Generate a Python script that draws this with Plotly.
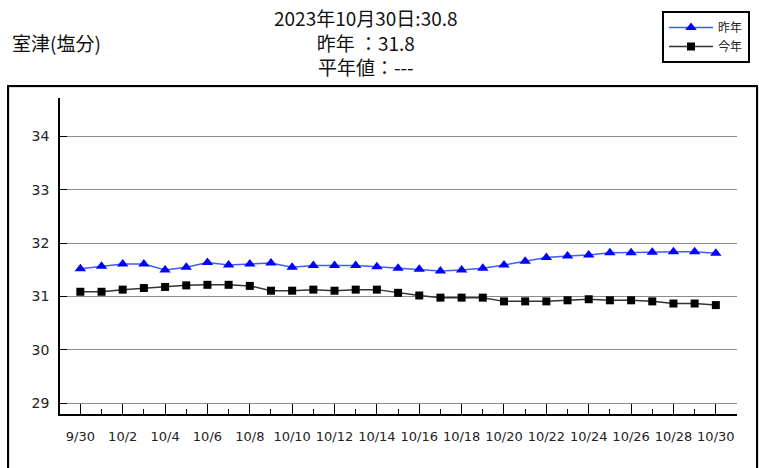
import plotly.graph_objects as go

dates = ["9/30"] + [f"10/{d}" for d in range(1, 31)]
last_year = [31.52, 31.57, 31.61, 31.61, 31.50, 31.55, 31.64, 31.59, 31.61, 31.63,
             31.55, 31.58, 31.58, 31.58, 31.56, 31.53, 31.51, 31.48, 31.50, 31.53,
             31.59, 31.66, 31.73, 31.76, 31.78, 31.82, 31.82, 31.83, 31.84, 31.84, 31.81]
this_year = [31.09, 31.09, 31.13, 31.16, 31.18, 31.21, 31.22, 31.22, 31.20, 31.11,
             31.11, 31.13, 31.11, 31.13, 31.13, 31.07, 31.02, 30.98, 30.98, 30.98,
             30.91, 30.91, 30.91, 30.93, 30.95, 30.93, 30.93, 30.91, 30.87, 30.87, 30.84]
y_ticks = [29, 30, 31, 32, 33, 34]

title_lines = ["2023年10月30日:30.8", "昨年 ：31.8", "平年値：---"]
station = "室津(塩分)"

idx = list(range(len(dates)))

fig = go.Figure()
fig.add_trace(go.Scatter(
    x=idx, y=last_year, name="昨年", mode="lines+markers",
    line=dict(color="#3f5cff", width=1.5),
    marker=dict(symbol="triangle-up", size=10, color="#0000ff"),
))
fig.add_trace(go.Scatter(
    x=idx, y=this_year, name="今年", mode="lines+markers",
    line=dict(color="#333333", width=1.5),
    marker=dict(symbol="square", size=8, color="#000000"),
))

W, H = 759, 468
L, R, T, B = 60, 22, 98, 54
pw, ph = W - L - R, H - T - B

def px(xp):
    return (xp - L) / pw

def py(yp):
    return (H - B - yp) / ph

fig.update_layout(
    width=W, height=H,
    margin=dict(l=L, r=R, t=T, b=B, autoexpand=False),
    paper_bgcolor="white", plot_bgcolor="white",
    font=dict(family="DejaVu Sans", color="#222222"),
    showlegend=True,
    legend=dict(
        x=px(662), y=py(11), xanchor="left", yanchor="top",
        bordercolor="black", borderwidth=2, bgcolor="white",
        font=dict(family="Noto Sans CJK JP", size=12, color="#222"),
        itemwidth=44, tracegroupgap=0,
        traceorder="normal",
    ),
    xaxis=dict(
        range=[-0.96, 31.0],
        tickmode="array",
        tickvals=idx[::2],
        ticktext=dates[::2],
        ticks="inside", ticklen=10, tickcolor="black", tickwidth=1,
        minor=dict(tickmode="array", tickvals=idx[1::2], ticks="inside",
                   ticklen=5, tickcolor="black", tickwidth=1, showgrid=False),
        showgrid=False, zeroline=False,
        showline=True, linecolor="black", linewidth=1.5,
        tickfont=dict(family="DejaVu Sans", size=13, color="#222"),
        ticklabelstandoff=10,
        fixedrange=True,
    ),
    yaxis=dict(
        range=[28.8, 34.72],
        tickmode="array", tickvals=y_ticks,
        ticks="inside", ticklen=7, tickcolor="black",
        showgrid=True, gridcolor="#8c8c8c", gridwidth=1,
        zeroline=False,
        showline=True, linecolor="black", linewidth=1.5,
        tickfont=dict(family="DejaVu Sans", size=14, color="#222"),
        ticklabelstandoff=6,
        fixedrange=True,
    ),
)

# outer frame
fig.add_shape(type="rect", xref="paper", yref="paper",
              x0=px(9), x1=px(758), y0=py(478), y1=py(87),
              line=dict(color="#bbbbbb", width=1), layer="below")
fig.add_shape(type="rect", xref="paper", yref="paper",
              x0=px(8), x1=px(757), y0=py(476), y1=py(86),
              line=dict(color="black", width=2), layer="below")

# titles
fig.add_annotation(text="<br>".join(title_lines), xref="paper", yref="paper",
                   x=px(366), y=py(42), xanchor="center", yanchor="middle",
                   align="center", showarrow=False,
                   font=dict(family="Noto Sans CJK JP", size=19, color="#111"))
fig.add_annotation(text=station, xref="paper", yref="paper",
                   x=px(10), y=py(43), xanchor="left", yanchor="middle",
                   showarrow=False,
                   font=dict(family="Noto Sans CJK JP", size=19, color="#111"))

fig.write_html("out.html", config={"displayModeBar": False},
               post_script="document.body.style.margin='0px';")
